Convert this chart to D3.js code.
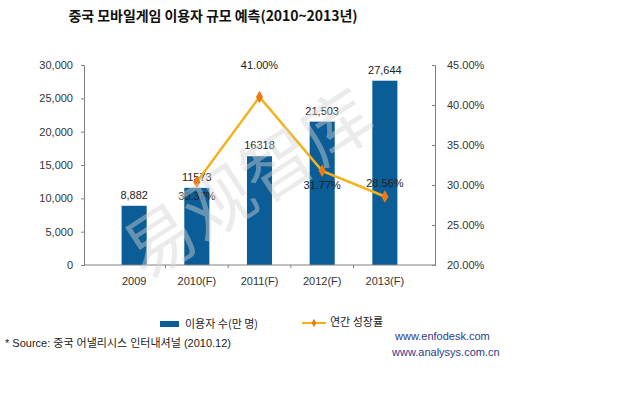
<!DOCTYPE html>
<html>
<head>
<meta charset="utf-8">
<script src="https://cdn.jsdelivr.net/npm/d3@7"></script>
<style>
body { margin: 0; background: #fff; }
text { font-family: "Liberation Sans", Arial, "Noto Sans CJK KR", sans-serif; }
</style>
</head>
<body>
<div id="chart"></div>
<script>
// data
var years = ["2009", "2010(F)", "2011(F)", "2012(F)", "2013(F)"];
var users = [8882, 11573, 16318, 21503, 27644];
var userLabels = ["8,882", "11573", "16318", "21,503", "27,644"];
var growthYears = ["2010(F)", "2011(F)", "2012(F)", "2013(F)"];
var growth = [30.37, 41.00, 31.77, 28.56];
var growthLabels = ["30.37%", "41.00%", "31.77%", "28.56%"];
var growthLabelPos = ["below", "above", "below", "above"];
var leftTicks = [0, 5000, 10000, 15000, 20000, 25000, 30000];
var rightTicks = [20, 25, 30, 35, 40, 45];

var svgWidth = 640, svgHeight = 400;
var margin = { top: 65, left: 84, right: 205, bottom: 135 };
var chartWidth = svgWidth - margin.left - margin.right;
var chartHeight = svgHeight - margin.top - margin.bottom;

var svg = d3.select("#chart").append("svg")
    .attr("width", svgWidth)
    .attr("height", svgHeight);

// title
svg.append("text")
    .attr("x", 213).attr("y", 21)
    .attr("text-anchor", "middle")
    .attr("font-size", 14).attr("font-weight", "bold")
    .attr("fill", "#111")
    .attr("textLength", 289)
    .style("font-family", "'Noto Sans CJK KR', sans-serif")
    .text("중국 모바일게임 이용자 규모 예측(2010~2013년)");

var g = svg.append("g").attr("transform", `translate(${margin.left},${margin.top})`);

var x = d3.scaleBand().domain(years).range([0, chartWidth]).padding(0.6);
var y = d3.scaleLinear().domain([0, 30000]).range([chartHeight, 0]);
var y2 = d3.scaleLinear().domain([20, 45]).range([chartHeight, 0]);

// bars
g.selectAll("rect.bar").data(users).enter().append("rect")
    .attr("class", "bar")
    .attr("x", (d, i) => x(years[i]))
    .attr("y", d => y(d))
    .attr("width", x.bandwidth())
    .attr("height", d => chartHeight - y(d))
    .attr("fill", "#0b5d97");

// axes
var leftAxis = d3.axisLeft(y).tickValues(leftTicks).tickFormat(d3.format(",")).tickSize(3).tickPadding(8);
var rightAxis = d3.axisRight(y2).tickValues(rightTicks).tickFormat(d => d.toFixed(2) + "%").tickSize(-3).tickPadding(12);
var bottomAxis = d3.axisBottom(x).tickSize(0).tickPadding(12);

function styleAxis(sel) {
    sel.selectAll("path, line").attr("stroke", "#808080");
    sel.selectAll("text").attr("fill", "#333").attr("font-size", 11);
}

g.append("g").call(leftAxis).call(styleAxis);
g.append("g").attr("transform", `translate(${chartWidth},0)`).call(rightAxis).call(styleAxis);
var bx = g.append("g").attr("transform", `translate(0,${chartHeight})`).call(bottomAxis).call(styleAxis);
bx.select(".domain").remove();
g.append("line")
    .attr("x1", 0).attr("x2", chartWidth)
    .attr("y1", chartHeight).attr("y2", chartHeight)
    .attr("stroke", "#808080");
// small category separators
g.selectAll("line.sep").data(years.slice(1)).enter().append("line")
    .attr("class", "sep")
    .attr("x1", d => x(d) - x.step() * x.paddingInner() / 2)
    .attr("x2", d => x(d) - x.step() * x.paddingInner() / 2)
    .attr("y1", chartHeight).attr("y2", chartHeight + 3)
    .attr("stroke", "#808080");

// watermark
svg.append("text")
    .attr("transform", "translate(262,205) rotate(-33)")
    .attr("text-anchor", "middle")
    .attr("font-size", 70)
    .attr("fill", "#d4d4d4").attr("opacity", 0.45)
    .style("font-family", "'Noto Sans CJK SC', sans-serif")
    .text("易观智库");

// bar labels
g.selectAll("text.val").data(users).enter().append("text")
    .attr("class", "val")
    .attr("x", (d, i) => x(years[i]) + x.bandwidth() / 2)
    .attr("y", d => y(d) - 7)
    .attr("text-anchor", "middle")
    .attr("font-size", 11).attr("fill", "#222")
    .text((d, i) => userLabels[i]);

// growth line
var cx = d => x(d) + x.bandwidth() / 2;
var line = d3.line().x((d, i) => cx(growthYears[i])).y(d => y2(d));
g.append("path").datum(growth)
    .attr("d", line)
    .attr("fill", "none")
    .attr("stroke", "#f2b21c")
    .attr("stroke-width", 2.5);

var diamond = d3.symbol().type(d3.symbolDiamond).size(45);
g.selectAll("path.mark").data(growth).enter().append("path")
    .attr("class", "mark")
    .attr("transform", (d, i) => `translate(${cx(growthYears[i])},${y2(d)})`)
    .attr("d", diamond)
    .attr("fill", "#ef7a14");

g.selectAll("text.pct").data(growth).enter().append("text")
    .attr("class", "pct")
    .attr("x", (d, i) => cx(growthYears[i]))
    .attr("y", (d, i) => growthLabelPos[i] === "above" ? y2(d) - (i === 1 ? 28 : 10) : y2(d) + 18)
    .attr("text-anchor", "middle")
    .attr("font-size", 11).attr("fill", "#222")
    .text((d, i) => growthLabels[i]);

// legend
var lg = svg.append("g").attr("transform", "translate(160,325)");
lg.append("rect").attr("x", 0).attr("y", -4).attr("width", 19).attr("height", 6).attr("fill", "#0b5d97");
lg.append("text").attr("x", 25).attr("y", 3).attr("font-size", 11).attr("fill", "#222")
    .style("font-family", "'Noto Sans CJK KR', sans-serif")
    .text("이용자 수(만 명)");
lg.append("line").attr("x1", 142).attr("x2", 166).attr("y1", -2).attr("y2", -2)
    .attr("stroke", "#f2b21c").attr("stroke-width", 2);
lg.append("path").attr("transform", "translate(154,-2)").attr("d", d3.symbol().type(d3.symbolDiamond).size(20)).attr("fill", "#ef7a14");
lg.append("text").attr("x", 170).attr("y", 1).attr("font-size", 11).attr("fill", "#222")
    .style("font-family", "'Noto Sans CJK KR', sans-serif")
    .text("연간 성장률");

// source
svg.append("text").attr("x", 5).attr("y", 347).attr("font-size", 11).attr("fill", "#222")
    .style("font-family", "'Liberation Sans', 'Noto Sans CJK KR', sans-serif")
    .text("* Source: 중국 어낼리시스 인터내셔널 (2010.12)");

svg.append("text").attr("x", 395).attr("y", 340).attr("font-size", 11).attr("fill", "#2b3a8c")
    .text("www.enfodesk.com");
svg.append("text").attr("x", 392).attr("y", 356).attr("font-size", 11).attr("fill", "#2b3a8c")
    .text("www.analysys.com.cn");
</script>
</body>
</html>
